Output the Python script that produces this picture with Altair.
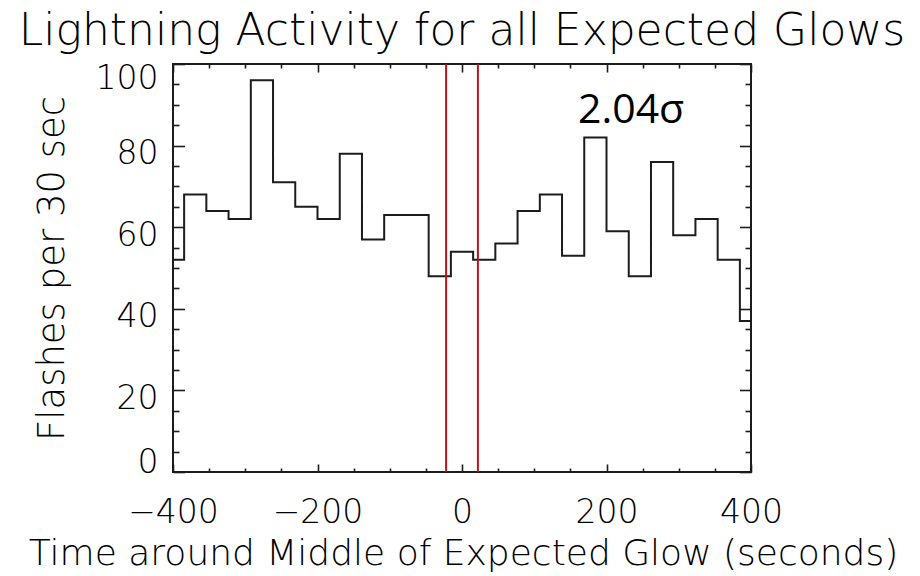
import altair as alt
import pandas as pd

# Flash counts in 30-second bins around the middle of each expected glow
bin_center = [-400.0, -369.2, -338.5, -307.7, -276.9, -246.2, -215.4, -184.6,
              -153.8, -123.1, -92.3, -61.5, -30.8, 0.0, 30.8, 61.5, 92.3,
              123.1, 153.8, 184.6, 215.4, 246.2, 276.9, 307.7, 338.5, 369.2, 400.0]
flashes = [52, 68, 64, 62, 96, 71, 65, 62, 78, 57, 63, 63, 48, 54,
           52, 56, 64, 68, 53, 82, 59, 48, 76, 58, 62, 52, 37]

# Edges of the glow window
glow_window = [-22, 22]

# Significance note
note_t = [234]
note_n = [85.5]
note_text = ["2.04σ"]

# Axis tick positions
x_labels = [-400, -200, 0, 200, 400]
x_ticks = [-400, -350, -300, -250, -200, -150, -100, -50, 0,
           50, 100, 150, 200, 250, 300, 350, 400]
y_labels = [0, 20, 40, 60, 80, 100]
y_ticks = [0, 5, 10, 15, 20, 25, 30, 35, 40, 45, 50,
           55, 60, 65, 70, 75, 80, 85, 90, 95, 100]

hist = pd.DataFrame({"t": bin_center, "n": flashes})
window = pd.DataFrame({"t": glow_window})
note = pd.DataFrame({"t": note_t, "n": note_n, "label": note_text})

FONT = "DejaVu Sans"
WEIGHT = 200
INK = "#1c1c1c"
TEXT = "#000000"
W, H = 578, 408

xs = alt.Scale(domain=[-400, 400], nice=False, zero=False)
ys = alt.Scale(domain=[0, 100], nice=False, zero=False)

x_tick_len = {"condition": {"test": "datum.value % 200 === 0", "value": 8}, "value": 4}
y_tick_len = {"condition": {"test": "datum.value % 20 === 0", "value": 11.5}, "value": 6}


def tick_axis(orient, offset, values, size):
    # tick-only axis, shifted across the plot so its ticks point inward
    return alt.Axis(orient=orient, offset=offset, values=values, labels=False,
                    domain=False, grid=False, ticks=True, tickSize=size,
                    tickColor=INK, tickWidth=1.6, title=None)


x_main = alt.Axis(
    orient="bottom", values=x_labels, ticks=False, domain=False, grid=False,
    labelFont=FONT, labelFontSize=33, labelFontWeight=WEIGHT, labelColor=TEXT,
    labelBaseline="alphabetic", labelPadding=50.6, labelFlush=False,
    labelOverlap=False,
    title="Time around Middle of Expected Glow (seconds)",
    titleFont=FONT, titleFontSize=36, titleFontWeight=WEIGHT, titleColor=TEXT,
    titleBaseline="alphabetic", titleAlign="center", titleX=290, titleY=92,
)

y_main = alt.Axis(
    orient="left", values=y_labels, ticks=False, domain=False, grid=False,
    labelFont=FONT, labelFontSize=33, labelFontWeight=WEIGHT, labelColor=TEXT,
    labelAlign="right", labelBaseline="middle", labelPadding=15,
    labelOffset={"expr": "datum.value === 100 ? 14.8 : (datum.value === 0 ? -9.8 : 7.8)"},
    title="Flashes per 30 sec",
    titleFont=FONT, titleFontSize=37, titleFontWeight=WEIGHT, titleColor=TEXT,
    titleAngle=270, titleBaseline="alphabetic", titleAlign="center",
    titleX=-110, titleY=204,
)

steps = alt.Chart(hist).mark_line(
    interpolate="step", color=INK, strokeWidth=2, strokeJoin="miter"
).encode(
    x=alt.X("t:Q", scale=xs, axis=x_main),
    y=alt.Y("n:Q", scale=ys, axis=y_main),
)

sigma = alt.Chart(note).mark_text(
    font="Open Sans", fontSize=41, color="#000000", align="center",
    baseline="alphabetic"
).encode(
    x=alt.X("t:Q", scale=xs, axis=tick_axis("top", -H, x_ticks, x_tick_len)),
    y=alt.Y("n:Q", scale=ys, axis=tick_axis("right", -W, y_ticks, y_tick_len)),
    text="label:N",
)

bounds = alt.Chart(window).mark_rule(color="#b8141b", strokeWidth=2).encode(
    x=alt.X("t:Q", scale=xs, axis=tick_axis("bottom", -H, x_ticks, x_tick_len)),
    y=alt.YDatum(0, scale=ys, axis=tick_axis("left", -W, y_ticks, y_tick_len)),
    y2=alt.Y2Datum(100),
)

chart = alt.layer(steps, sigma, bounds).resolve_axis(
    x="independent", y="independent"
).properties(
    width=W,
    height=H,
    title=alt.TitleParams(
        "Lightning Activity for all Expected Glows", font=FONT, fontSize=44,
        fontWeight=WEIGHT, color=TEXT, anchor="middle", frame="group",
        baseline="alphabetic", offset=18, dy=44,
    ),
    autosize=alt.AutoSizeParams(type="none"),
    padding={"left": 173, "top": 64, "right": 169, "bottom": 104},
    background="white",
).configure_view(stroke=INK, strokeWidth=2)

chart.save("out.html", embed_options={"renderer": "svg", "actions": False})
